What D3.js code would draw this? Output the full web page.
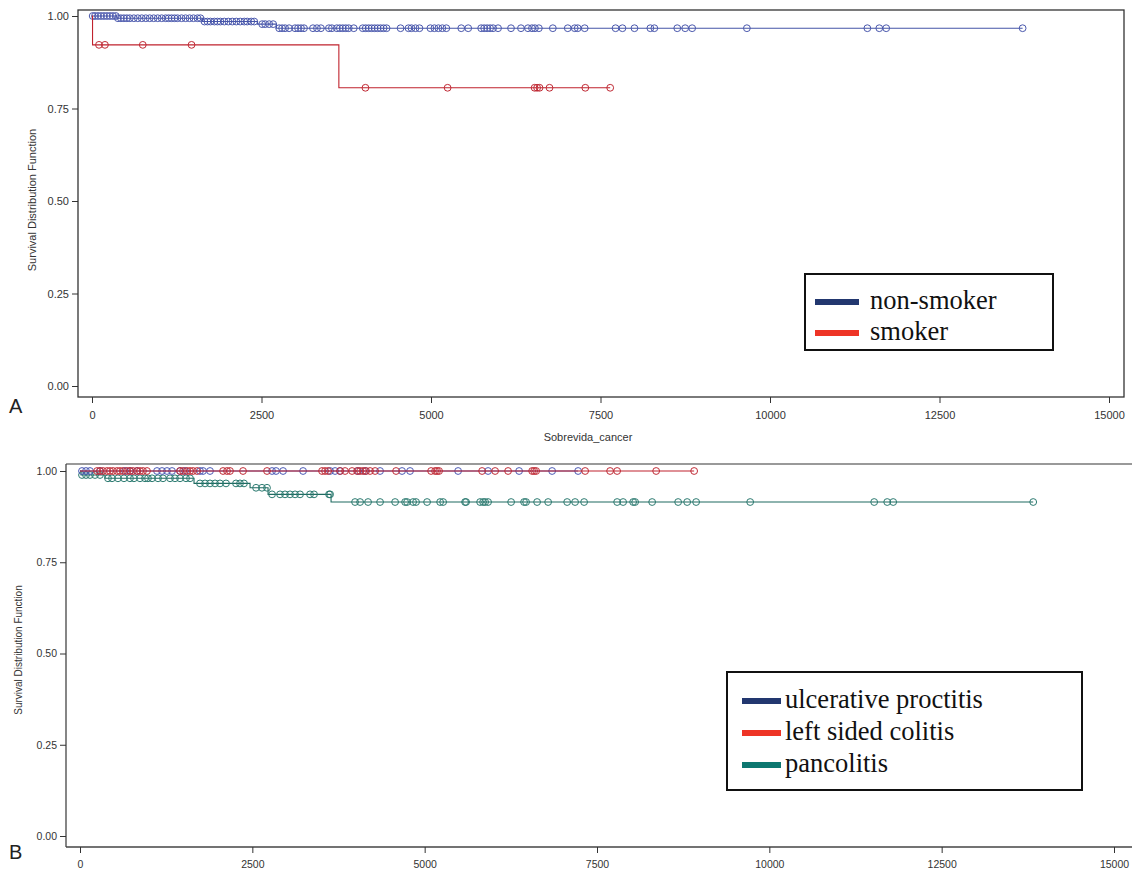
<!DOCTYPE html>
<html lang="en">
<head>
<meta charset="utf-8">
<title>Survival curves</title>
<script src="https://d3js.org/d3.v7.min.js"></script>
<style>
  body { margin: 0; background: #fff; }
  svg text { font-family: "Liberation Sans", Arial, sans-serif; }
</style>
</head>
<body>
<svg id="chart" width="1132" height="870"></svg>
<script>
// ---------- data (days, survival) ----------
var xTicks = [0, 2500, 5000, 7500, 10000, 12500, 15000];
var yTicks = [0, 0.25, 0.5, 0.75, 1];

// panel A : smoking
var smokingGroups = ["non-smoker", "smoker"];
var nonSmokerSteps = [[0, 1], [365, 0.994], [1630, 0.985], [2440, 0.978], [2720, 0.967]];
var nonSmokerCensored = [10, 44, 88, 132, 176, 220, 264, 308, 352,
  382, 426, 470, 514, 558, 617, 675, 734, 793, 851, 910, 969, 1028, 1086, 1130, 1174, 1218, 1262, 1321, 1380, 1439, 1497, 1556, 1600,
  1659, 1703, 1747, 1806, 1850, 1894, 1952, 2011, 2070, 2129, 2187, 2246, 2290, 2349, 2393,
  2510, 2554, 2613, 2672,
  2760, 2804, 2848, 2907, 2995, 3039, 3083, 3127, 3259, 3318, 3376, 3494, 3538, 3611, 3655, 3699, 3743, 3787, 3861, 3993,
  4037, 4081, 4125, 4169, 4213, 4257, 4301, 4345, 4551, 4668, 4712, 4771, 4830, 4991, 5050, 5109, 5167, 5226, 5446, 5549,
  5740, 5784, 5828, 5872, 5916, 5989, 6180, 6327, 6430, 6489, 6533, 6591, 6797, 7017, 7120, 7164, 7267, 7722, 7824, 8001,
  8235, 8294, 8632, 8749, 8852, 9659, 11436, 11612, 11714, 13726];
var smokerSteps = [[0, 1], [8, 0.922], [3641, 0.806]];
var smokerCensored = [103, 191, 749, 1468, 4033, 5245, 6528, 6565, 6601, 6748, 7276, 7643];

// panel B : extent of disease
var extentGroups = ["ulcerative proctitis", "left sided colitis", "pancolitis"];
var proctitisSteps = [[0, 1]];
var proctitisCensored = [29, 87, 145, 290, 653, 726, 827, 1117, 1190, 1262, 1335, 1451, 1524, 1741, 1785, 1886,
  2786, 2844, 2946, 3236, 3628, 3700, 3773, 4034, 4136, 4353, 4672, 4788, 5485, 5920, 6370, 6849, 7226];
var leftSidedSteps = [[0, 1]];
var leftSidedCensored = [247, 290, 334, 392, 435, 479, 537, 580, 624, 682, 726, 769, 827, 871, 914, 972,
  1451, 1495, 1553, 1596, 1640, 1698, 2075, 2133, 2176, 2365, 2713, 3511, 3555, 3599, 3773, 3845, 3947,
  4019, 4063, 4106, 4150, 4208, 4281, 4585, 5093, 5151, 5180, 5209, 5833, 6022, 6210, 6559, 6588, 6617,
  7328, 7690, 7792, 8358, 8909];
var pancolitisSteps = [[0, 1], [15, 0.989], [363, 0.980], [1654, 0.966], [2467, 0.954], [2728, 0.936], [3642, 0.915]];
var pancolitisCensored = [29, 87, 145, 218, 290, 406,
  464, 551, 638, 725, 783, 870, 943, 986, 1045, 1132, 1204, 1306, 1378, 1451, 1538, 1596,
  1741, 1814, 1886, 1959, 2031, 2118, 2263, 2321, 2379,
  2554, 2640, 2713,
  2786, 2902, 2974, 3047, 3120, 3192, 3337, 3395, 3613, 3628,
  3990, 4063, 4179, 4353, 4571, 4716, 4745, 4832, 4875, 5035, 5224, 5268, 5586, 5601, 5804, 5848, 5877, 5920,
  6254, 6442, 6471, 6631, 6791, 7067, 7182, 7313, 7792, 7879, 8024, 8053, 8300, 8677, 8808, 8938,
  9722, 11521, 11710, 11797, 13828];

// ---------- styling ----------
var lineColors = { "non-smoker": "#4655a8", "smoker": "#c0232e",
  "ulcerative proctitis": "#4655b0", "left sided colitis": "#c0232e", "pancolitis": "#1e6a60" };
var dotColors = { "non-smoker": "#4a58ad", "smoker": "#c02a35",
  "ulcerative proctitis": "#4a58b5", "left sided colitis": "#c02a35", "pancolitis": "#2b7a70" };
var legendColors = { "non-smoker": "#22376f", "smoker": "#ee3426",
  "ulcerative proctitis": "#22376f", "left sided colitis": "#ee3426", "pancolitis": "#0d7770" };

var svg = d3.select("#chart");

function survivalAt(steps, t) {
  var i = d3.bisector(function (d) { return d[0]; }).right(steps, t) - 1;
  return steps[Math.max(i, 0)][1];
}

function drawCurve(g, x, y, name, steps, censored) {
  var end = d3.max(censored);
  var pts = steps.concat([[end, steps[steps.length - 1][1]]]);
  var line = d3.line()
    .x(function (d) { return x(d[0]); })
    .y(function (d) { return y(d[1]); })
    .curve(d3.curveStepAfter);
  g.append("path").datum(pts)
    .attr("d", line)
    .attr("fill", "none")
    .attr("stroke", lineColors[name])
    .attr("stroke-width", 1.1);
  g.selectAll(null).data(censored).enter()
    .append("circle")
    .attr("cx", function (d) { return x(d); })
    .attr("cy", function (d) { return y(survivalAt(steps, d)); })
    .attr("r", 3.4)
    .attr("fill", "none")
    .attr("stroke", dotColors[name])
    .attr("stroke-width", 1);
}

// ---------- panel A ----------
var xA = d3.scaleLinear().domain([0, 15000]).range([92, 1109]);
var yA = d3.scaleLinear().domain([0, 1]).range([386, 16]);
var gA = svg.append("g");

gA.append("rect").attr("x", 78).attr("y", 10).attr("width", 1046).attr("height", 387)
  .attr("fill", "none").attr("stroke", "#333").attr("stroke-width", 1.3);

var axYA = gA.append("g").attr("transform", "translate(78,0)")
  .call(d3.axisLeft(yA).tickValues(yTicks).tickFormat(d3.format(".2f")).tickSize(6).tickPadding(3));
axYA.select(".domain").remove();
axYA.selectAll("text").attr("font-size", 11).attr("fill", "#333");
axYA.selectAll("line").attr("stroke", "#333");

var axXA = gA.append("g").attr("transform", "translate(0,397)")
  .call(d3.axisBottom(xA).tickValues(xTicks).tickFormat(d3.format("d")).tickSize(6).tickPadding(8));
axXA.select(".domain").remove();
axXA.selectAll("text").attr("font-size", 11).attr("fill", "#333");
axXA.selectAll("line").attr("stroke", "#333");

gA.append("text").attr("transform", "translate(36,200) rotate(-90)")
  .attr("text-anchor", "middle").attr("font-size", 11).attr("fill", "#333")
  .text("Survival Distribution Function");
gA.append("text").attr("x", 588).attr("y", 441).attr("text-anchor", "middle")
  .attr("font-size", 11).attr("fill", "#333").text("Sobrevida_cancer");
gA.append("text").attr("x", 9).attr("y", 413).attr("font-size", 20).attr("fill", "#222").text("A");

drawCurve(gA, xA, yA, "non-smoker", nonSmokerSteps, nonSmokerCensored);
drawCurve(gA, xA, yA, "smoker", smokerSteps, smokerCensored);

// legend A
var legA = gA.append("g");
legA.append("rect").attr("x", 805).attr("y", 274).attr("width", 248).attr("height", 76)
  .attr("fill", "#fff").attr("stroke", "#111").attr("stroke-width", 2);
smokingGroups.forEach(function (name, i) {
  var yy = 302 + i * 31;
  legA.append("line").attr("x1", 815).attr("x2", 859).attr("y1", yy).attr("y2", yy)
    .attr("stroke", legendColors[name]).attr("stroke-width", 6);
  legA.append("text").attr("x", 870).attr("y", yy + 7)
    .style("font-family", "'Liberation Serif', 'Times New Roman', serif")
    .attr("font-size", 26.5).attr("fill", "#111").text(name);
});

// ---------- panel B ----------
var xB = d3.scaleLinear().domain([0, 15000]).range([80, 1114]);
var yB = d3.scaleLinear().domain([0, 1]).range([836, 471]);
var gB = svg.append("g");

gB.append("line").attr("x1", 66).attr("x2", 1132).attr("y1", 464).attr("y2", 464)
  .attr("stroke", "#777").attr("stroke-width", 1.6);
gB.append("line").attr("x1", 66).attr("x2", 1132).attr("y1", 847).attr("y2", 847)
  .attr("stroke", "#444").attr("stroke-width", 1.3);
gB.append("line").attr("x1", 66).attr("x2", 66).attr("y1", 464).attr("y2", 847)
  .attr("stroke", "#444").attr("stroke-width", 1.3);

var axYB = gB.append("g").attr("transform", "translate(66,0)")
  .call(d3.axisLeft(yB).tickValues(yTicks).tickFormat(d3.format(".2f")).tickSize(6).tickPadding(3));
axYB.select(".domain").remove();
axYB.selectAll("text").attr("font-size", 10.5).attr("fill", "#333");
axYB.selectAll("line").attr("stroke", "#333");

var axXB = gB.append("g").attr("transform", "translate(0,847)")
  .call(d3.axisBottom(xB).tickValues(xTicks).tickFormat(d3.format("d")).tickSize(6).tickPadding(8));
axXB.select(".domain").remove();
axXB.selectAll("text").attr("font-size", 10.5).attr("fill", "#333");
axXB.selectAll("line").attr("stroke", "#333");

gB.append("text").attr("transform", "translate(22,650) rotate(-90)")
  .attr("text-anchor", "middle").attr("font-size", 10).attr("fill", "#333")
  .text("Survival Distribution Function");
gB.append("text").attr("x", 9).attr("y", 859).attr("font-size", 20).attr("fill", "#222").text("B");

drawCurve(gB, xB, yB, "pancolitis", pancolitisSteps, pancolitisCensored);
drawCurve(gB, xB, yB, "ulcerative proctitis", proctitisSteps, proctitisCensored);
drawCurve(gB, xB, yB, "left sided colitis", leftSidedSteps, leftSidedCensored);

// legend B
var legB = gB.append("g");
legB.append("rect").attr("x", 727).attr("y", 672).attr("width", 355).attr("height", 118)
  .attr("fill", "#fff").attr("stroke", "#111").attr("stroke-width", 2);
extentGroups.forEach(function (name, i) {
  var yy = 701 + i * 32;
  legB.append("line").attr("x1", 742).attr("x2", 781).attr("y1", yy).attr("y2", yy)
    .attr("stroke", legendColors[name]).attr("stroke-width", 6);
  legB.append("text").attr("x", 785).attr("y", yy + 7)
    .style("font-family", "'Liberation Serif', 'Times New Roman', serif")
    .attr("font-size", 26.5).attr("fill", "#111").text(name);
});
</script>
</body>
</html>
